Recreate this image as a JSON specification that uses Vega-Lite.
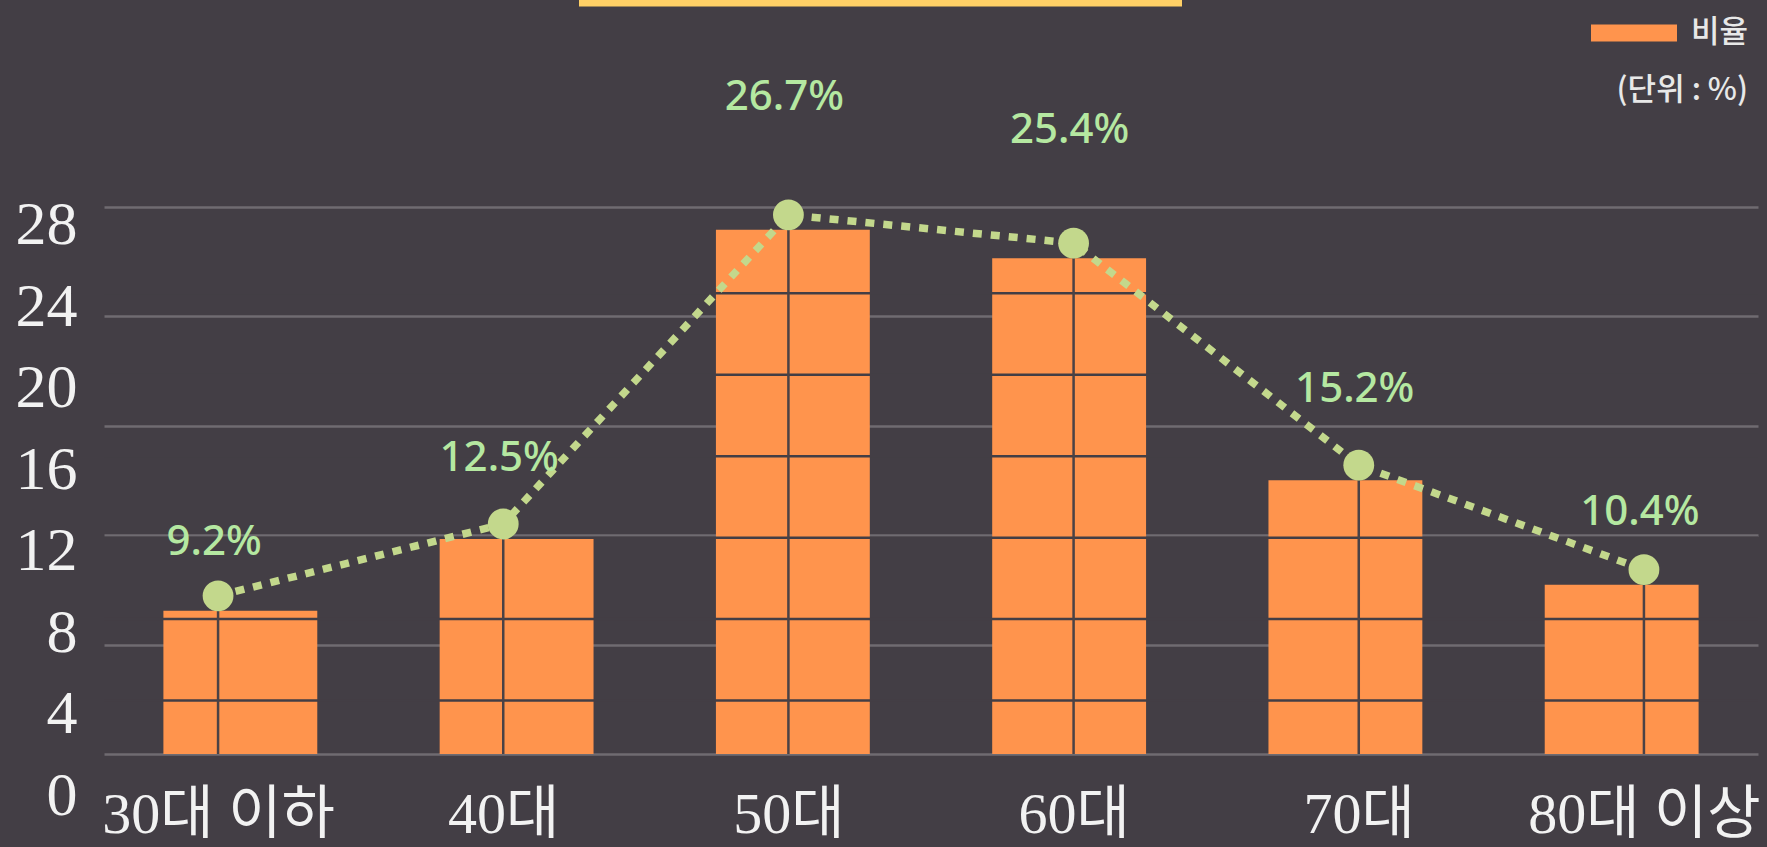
{
  "$schema": "https://vega.github.io/schema/vega-lite/v6.json",
  "width": 1654,
  "height": 646,
  "autosize": {"type": "none"},
  "padding": {"left": 104, "top": 140, "right": 9, "bottom": 61},
  "background": "#433e45",
  "config": {"view": {"stroke": null}},
  "datasets": {
    "main": [
      {"연령대": "30대 이하", "비율": 9.2, "라벨": "9.2%"},
      {"연령대": "40대", "비율": 12.5, "라벨": "12.5%"},
      {"연령대": "50대", "비율": 26.7, "라벨": "26.7%"},
      {"연령대": "60대", "비율": 25.4, "라벨": "25.4%"},
      {"연령대": "70대", "비율": 15.2, "라벨": "15.2%"},
      {"연령대": "80대 이상", "비율": 10.4, "라벨": "10.4%"}
    ],
    "levels": [
      {"눈금": 4}, {"눈금": 8}, {"눈금": 12}, {"눈금": 16}, {"눈금": 20}, {"눈금": 24}
    ]
  },
  "layer": [
    {
      "data": {"name": "main"},
      "mark": {"type": "bar", "fill": "#ff944d"},
      "encoding": {
        "x": {"field": "연령대", "type": "nominal", "sort": null,
              "scale": {"type": "band", "paddingInner": 0.443, "paddingOuter": 0.215},
              "axis": null},
        "y": {"field": "비율", "type": "quantitative",
              "scale": {"domain": [1.153, 30.827], "zero": false, "nice": false},
              "axis": {"orient": "right", "grid": true, "labels": false, "ticks": false, "domain": false, "title": null,
                       "values": [2.623, 7.648, 12.673, 17.698, 22.723, 27.748],
                       "gridColor": "#6f6b71", "gridWidth": 2.5, "gridOpacity": 1}},
        "y2": {"datum": 2.623},
        "color": {"datum": "비율", "type": "nominal",
                  "scale": {"range": ["#ff944d"]},
                  "legend": {"orient": "none", "legendX": 1487, "legendY": -150, "padding": 0,
                             "title": "(단위 : %)", "titleOrient": "bottom", "titleAnchor": "end",
                             "titleFont": "Noto Sans CJK KR", "titleFontSize": 31, "titleFontWeight": 500,
                             "titleColor": "#e8e8e8", "titlePadding": 28,
                             "symbolType": "M-1,-0.2H1V0.2H-1Z", "symbolSize": 7396, "symbolOpacity": 1,
                             "symbolStrokeWidth": 0,
                             "labelFont": "Noto Sans CJK KR", "labelFontSize": 31, "labelFontWeight": 500,
                             "labelColor": "#e8e8e8", "labelOffset": 14, "labelLimit": 0}}
      }
    },
    {
      "data": {"name": "levels"},
      "mark": {"type": "rule", "color": "#433e45", "strokeWidth": 2.5},
      "encoding": {
        "y": {"field": "눈금", "type": "quantitative",
              "scale": {"domain": [-0.196, 31.532], "zero": false, "nice": false},
              "axis": {"orient": "left", "values": [0, 4, 8, 12, 16, 20, 24, 28],
                       "grid": false, "ticks": false, "domain": false, "title": null,
                       "labelOffset": 13, "labelPadding": 27, "labelBaseline": "middle",
                       "labelFont": "Liberation Serif", "labelFontSize": 62, "labelColor": "#f2f2f2"}}
      }
    },
    {
      "data": {"name": "main"},
      "encoding": {
        "x": {"field": "연령대", "type": "nominal", "sort": null,
              "scale": {"type": "point", "padding": 0.4},
              "axis": {"orient": "bottom", "title": null, "ticks": false, "domain": false, "grid": false,
                       "labelAngle": 0, "labelPadding": 0, "labelLimit": 0,
                       "labelFont": "Liberation Serif, Noto Sans CJK KR", "labelFontSize": 58,
                       "labelColor": "#f2f2f2"}},
        "y": {"field": "비율", "type": "quantitative",
              "scale": {"domain": [1.153, 30.827], "zero": false, "nice": false},
              "axis": null}
      },
      "layer": [
        {
          "mark": {"type": "rule", "color": "#4a4246", "strokeWidth": 2.5},
          "encoding": {"y2": {"datum": 2.623}}
        },
        {
          "mark": {"type": "line", "color": "#c3d88c", "strokeWidth": 7.5, "strokeDash": [9, 9], "yOffset": -15}
        },
        {
          "mark": {"type": "circle", "color": "#c3d88c", "size": 950, "opacity": 1, "yOffset": -15}
        }
      ]
    },
    {
      "data": {"name": "main"},
      "mark": {"type": "text", "color": "#b5e8a1", "font": "Noto Sans", "fontSize": 42, "fontWeight": 500,
               "align": "center", "baseline": "middle", "dx": -4, "strokeOpacity": 0},
      "encoding": {
        "x": {"field": "연령대", "type": "nominal", "sort": null,
              "scale": {"type": "point", "padding": 0.4}, "axis": null},
        "y": {"field": "비율", "type": "quantitative",
              "scale": {"domain": [-0.393, 25.01], "zero": false, "nice": false}, "axis": null},
        "text": {"field": "라벨"},
        "stroke": {"datum": "제목", "type": "nominal",
                   "scale": {"range": ["#ffd066"]},
                   "legend": {"orient": "none", "legendX": 469, "legendY": -447, "padding": 0,
                              "title": null, "labelExpr": "''", "labelFontSize": 1,
                              "symbolType": "M-1,0H1", "symbolSize": 363609,
                              "symbolStrokeWidth": 12, "symbolStrokeColor": "#ffd066",
                              "symbolOpacity": 1}}
      }
    }
  ],
  "resolve": {"scale": {"x": "independent", "y": "independent"}}
}
